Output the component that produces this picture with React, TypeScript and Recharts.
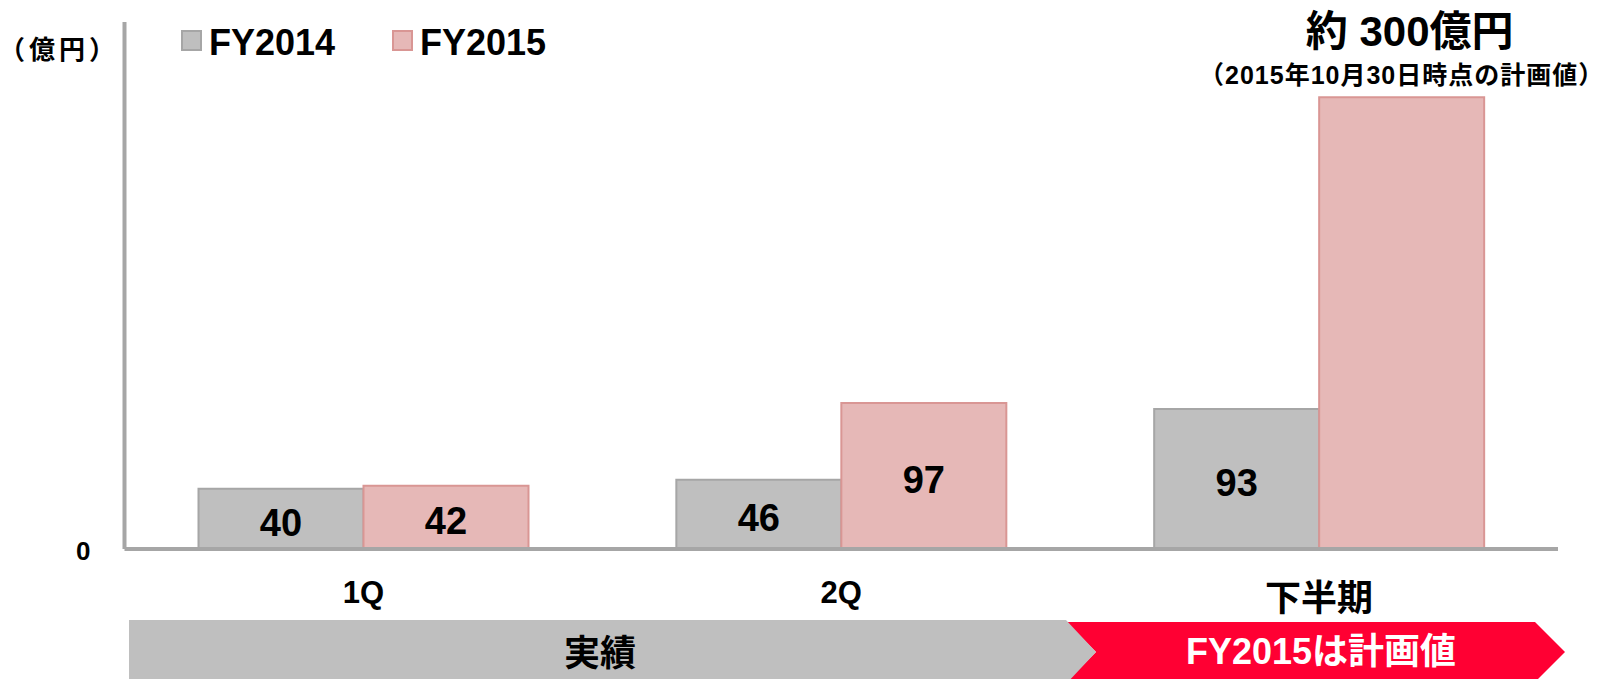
import React from "react";
import { Bar, BarChart, LabelList, XAxis, YAxis } from "recharts";

// 区分とシリーズ値（億円）
const categories = ["1Q", "2Q", "下半期"];
const fy2014 = [40, 46, 93];
const fy2015 = [42, 97, 300];
const seriesNames = ["FY2014", "FY2015"];
const yTicks = [0];
const planIndex = 2; // FY2015 下半期は計画値
const planTitle = "約 300億円";
const planNote = "（2015年10月30日時点の計画値）";
const unitLabel = "（億円）";
const bandActual = "実績";
const bandPlan = "FY2015は計画値";

const W = 1603;
const H = 679;
const FONT = '"Liberation Sans", Arial, "Noto Sans CJK JP", sans-serif';
const CJK = '"Noto Sans CJK JP", "Liberation Sans", sans-serif';
const AXIS = "#a6a6a6";
const GRAY = { fill: "#bfbfbf", stroke: "#a6a6a6" };
const PINK = { fill: "#e6b8b7", stroke: "#d99694" };
const RED = "#ff0033";

const data = categories.map((c, i) => ({
  name: c,
  fy2014: fy2014[i],
  fy2015: fy2015[i],
}));

function CatTick({ x, y, payload }: any) {
  const big = /[^\x00-\x7f]/.test(payload.value);
  return (
    <text
      x={x}
      y={y + (big ? 47 : 41)}
      textAnchor="middle"
      dominantBaseline="central"
      fontFamily={FONT}
      fontWeight="bold"
      fontSize={big ? 36 : 31}
      fill="#000"
    >
      {payload.value}
    </text>
  );
}

function ValueTick({ x, y, payload }: any) {
  return (
    <text
      x={x}
      y={y + 2}
      textAnchor="end"
      dominantBaseline="central"
      fontFamily={FONT}
      fontWeight="bold"
      fontSize={26}
      fill="#000"
    >
      {payload.value}
    </text>
  );
}

function ValueLabel(props: any) {
  const { x, y, width, height, value } = props;
  return (
    <text
      x={x + width / 2}
      y={y + height / 2 + 4}
      textAnchor="middle"
      dominantBaseline="central"
      fontFamily={FONT}
      fontWeight="bold"
      fontSize={38}
      fill="#000"
    >
      {value}
    </text>
  );
}

function PlanLabel(props: any) {
  const { index } = props;
  if (index !== planIndex) return <ValueLabel {...props} />;
  const cx = props.x + props.width / 2 + 6;
  return (
    <g fontWeight="bold" fill="#000" textAnchor="middle">
      <text x={cx + 2} y={props.y - 66} dominantBaseline="central" fontSize={42} fontFamily={FONT}>
        {planTitle}
      </text>
      <text
        x={cx - 6}
        y={props.y - 22}
        dominantBaseline="central"
        fontSize={25}
        letterSpacing={1}
        fontFamily={FONT}
      >
        {planNote}
      </text>
    </g>
  );
}

export default function App() {
  const swatches = [GRAY, PINK];
  const legendX = [182, 393];
  return (
    <div
      style={{
        position: "absolute",
        left: 0,
        top: 0,
        width: W,
        height: H,
        background: "#fff",
        overflow: "hidden",
        fontFamily: FONT,
      }}
    >
      <BarChart
        width={W}
        height={H}
        data={data}
        margin={{ top: 22, right: 45, bottom: 0, left: 0 }}
        barGap={0}
        barSize={165}
        accessibilityLayer={false}
      >
        <XAxis
          dataKey="name"
          height={130}
          tickLine={false}
          tickSize={0}
          axisLine={{ stroke: AXIS, strokeWidth: 4 }}
          tick={<CatTick />}
          interval={0}
        />
        <YAxis
          width={124.5}
          domain={[0, 350]}
          ticks={yTicks}
          tickLine={false}
          tickSize={0}
          tickMargin={34}
          axisLine={{ stroke: AXIS, strokeWidth: 4 }}
          tick={<ValueTick />}
        />
        <Bar
          dataKey="fy2014"
          fill={GRAY.fill}
          stroke={GRAY.stroke}
          strokeWidth={2}
          isAnimationActive={false}
        >
          <LabelList dataKey="fy2014" content={<ValueLabel />} />
        </Bar>
        <Bar
          dataKey="fy2015"
          fill={PINK.fill}
          stroke={PINK.stroke}
          strokeWidth={2}
          isAnimationActive={false}
        >
          <LabelList dataKey="fy2015" content={<PlanLabel />} />
        </Bar>
      </BarChart>

      {/* 単位・凡例・下部の帯 */}
      <svg
        width={W}
        height={H}
        style={{ position: "absolute", left: 0, top: 0, pointerEvents: "none" }}
      >
        <text
          x={59}
          y={47}
          textAnchor="middle"
          dominantBaseline="central"
          fontFamily={CJK}
          fontWeight="bold"
          fontSize={26}
          letterSpacing={4}
        >
          {unitLabel}
        </text>
        {seriesNames.map((s, i) => (
          <g key={s}>
            <rect
              x={legendX[i]}
              y={31}
              width={19}
              height={19}
              fill={swatches[i].fill}
              stroke={swatches[i].stroke}
              strokeWidth={2}
            />
            <text
              x={legendX[i] + 27}
              y={42}
              dominantBaseline="central"
              fontFamily={FONT}
              fontWeight="bold"
              fontSize={36}
            >
              {s}
            </text>
          </g>
        ))}
        <polygon
          points="1066,622 1535,622 1565,652 1535,682 1066,682 1096,652"
          fill={RED}
        />
        <polygon points="129,620 1066,620 1096,652 1066,684 129,684" fill="#bfbfbf" />
        <text
          x={600}
          y={653}
          textAnchor="middle"
          dominantBaseline="central"
          fontFamily={FONT}
          fontWeight="bold"
          fontSize={36}
        >
          {bandActual}
        </text>
        <text
          x={1321}
          y={651}
          textAnchor="middle"
          dominantBaseline="central"
          fontFamily={FONT}
          fontWeight="bold"
          fontSize={36}
          fill="#fff"
        >
          {bandPlan}
        </text>
      </svg>
    </div>
  );
}
